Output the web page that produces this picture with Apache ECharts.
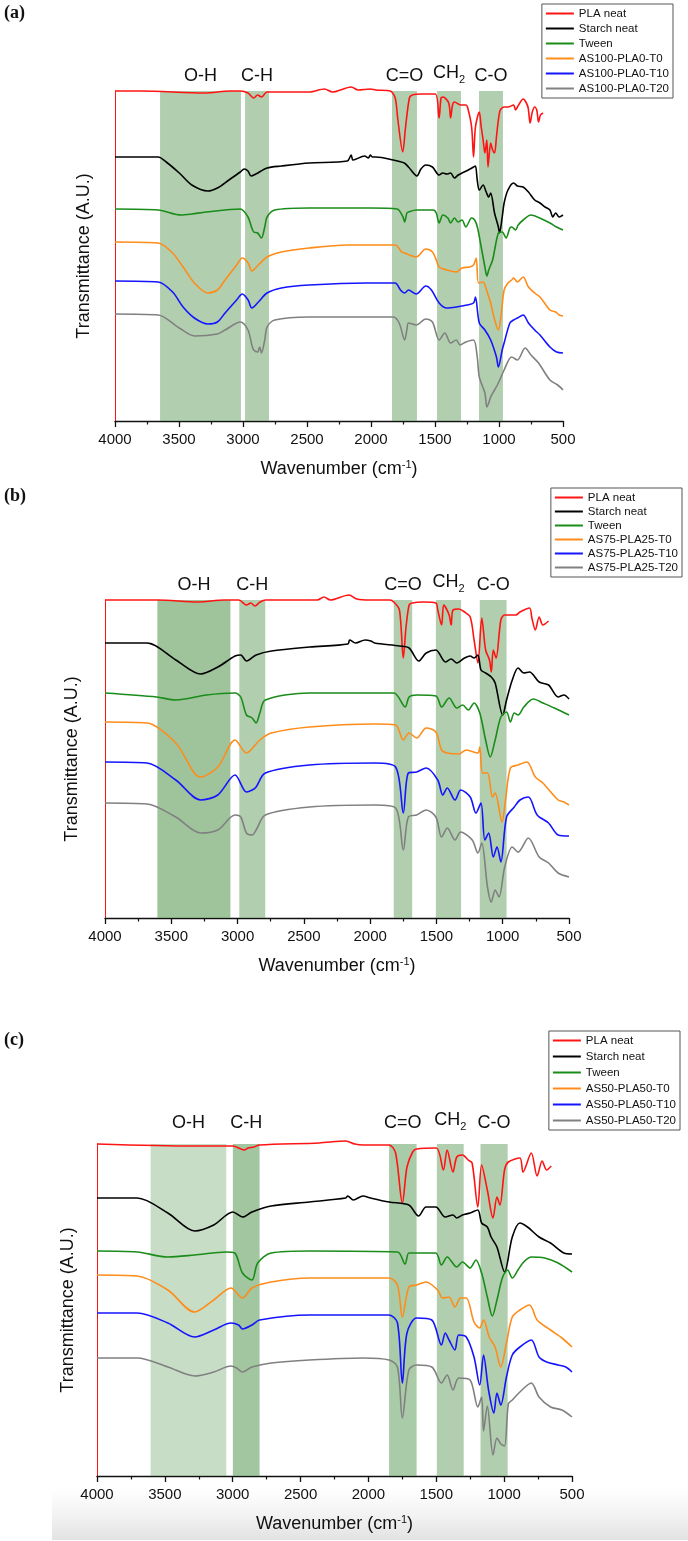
<!DOCTYPE html>
<html><head><meta charset="utf-8">
<script src="https://cdn.jsdelivr.net/npm/echarts@6/dist/echarts.min.js"></script>
<style>html,body{margin:0;padding:0;background:#fff}#c{width:688px;height:1541px}</style>
</head><body><div id="c"></div>
<script>
// ---- shared labels ----
const seriesNames = ['PLA neat','Starch neat','Tween'];
const blendNamesA = ['AS100-PLA0-T0','AS100-PLA0-T10','AS100-PLA0-T20'];
const blendNamesB = ['AS75-PLA25-T0','AS75-PLA25-T10','AS75-PLA25-T20'];
const blendNamesC = ['AS50-PLA50-T0','AS50-PLA50-T10','AS50-PLA50-T20'];
const colors = ['#ff1414','#000000','#1a8c1a','#ff8c1a','#1414ff','#808080'];
const xTicks = [500,1000,1500,2000,2500,3000,3500,4000];
const bandNames = ['O-H','C-H','C=O','CH2','C-O'];
// band limits [from, to] in cm-1
const bandsA = [[3648,3016],[2984,2797],[1836,1641],[1484,1297],[1156,969]];
const bandsB = [[3605,3054],[2987,2791],[1822,1683],[1504,1314],[1173,971]];
const bandsC = [[3605,3047],[2999,2802],[1848,1645],[1496,1298],[1174,974]];

// ---- panel (a) spectra: [wavenumber, transmittance A.U.] ----
const plaA = [[4000,330],[3800,330],[3298,328],[3100,330],[3021,330],[2961,328],[2916,323],[2886,326],[2856,324],[2812,329],[2483,329],[2364,332],[2300,329],[2155,334],[2100,331],[2005,332],[1961,331],[1850,330],[1811,323],[1790,301],[1752,269],[1730,294],[1700,323],[1677,326],[1600,327],[1498,327],[1468,303],[1453,323],[1438,324],[1393,318],[1378,303],[1363,316],[1348,319],[1300,316],[1259,316],[1244,313],[1214,294],[1199,264],[1184,294],[1154,309],[1139,294],[1124,281],[1110,268],[1095,281],[1086,254],[1065,278],[1050,271],[1035,268],[1020,284],[1005,301],[990,311],[960,314],[930,314],[886,316],[871,311],[856,314],[811,322],[790,319],[772,313],[757,298],[740,309],[721,314],[705,311],[691,299],[676,306],[656,308]];
const starchA = [[4000,264],[3663,264],[3600,259],[3498,248],[3400,236],[3274,230],[3200,233],[3110,241],[3021,249],[2991,252],[2961,250],[2937,245],[2900,247],[2812,253],[2700,255],[2483,258],[2185,260],[2155,266],[2140,261],[2050,265],[2020,263],[2005,266],[1990,264],[1961,264],[1826,261],[1740,258],[1707,254],[1641,245],[1610,252],[1572,256],[1520,254],[1468,246],[1440,248],[1408,247],[1378,248],[1348,243],[1319,246],[1289,248],[1240,251],[1199,254],[1184,255],[1170,241],[1154,231],[1124,236],[1100,229],[1080,224],[1065,228],[1035,208],[1005,194],[996,188],[975,204],[960,218],[930,231],[886,238],[856,235],[811,234],[770,229],[721,221],[680,218],[640,214],[602,211],[580,204],[557,208],[530,204],[500,206]];
const tweenA = [[4000,212],[3663,211],[3483,206],[3400,207],[3289,209],[3021,212],[2961,204],[2931,193],[2916,189],[2886,188],[2856,183],[2830,194],[2812,204],[2752,211],[2483,213],[2000,213],[1796,212],[1750,204],[1737,199],[1720,208],[1707,209],[1647,211],[1513,211],[1490,208],[1468,198],[1438,206],[1400,203],[1378,198],[1348,203],[1319,199],[1289,201],[1259,194],[1214,203],[1190,201],[1169,194],[1139,174],[1110,154],[1095,145],[1080,151],[1050,161],[1005,188],[975,189],[945,183],[915,193],[901,194],[871,191],[850,196],[811,201],[751,206],[700,204],[602,198],[550,194],[500,191]];
const t0A = [[4000,179],[3663,178],[3550,168],[3468,154],[3380,138],[3274,128],[3200,131],[3140,141],[3050,156],[3006,163],[2960,158],[2931,150],[2880,156],[2812,164],[2700,169],[2483,173],[2185,176],[1811,176],[1760,169],[1737,168],[1700,166],[1647,164],[1572,172],[1520,169],[1490,161],[1468,154],[1408,151],[1334,149],[1289,153],[1230,154],[1199,156],[1178,163],[1160,138],[1124,139],[1110,136],[1080,124],[1065,118],[1040,104],[1005,91],[985,104],[960,131],[930,138],[901,141],[886,143],[856,139],[811,144],[770,134],[721,128],[680,124],[602,111],[557,109],[530,106],[500,105]];
const t10A = [[4000,140],[3663,139],[3550,129],[3468,114],[3380,103],[3274,97],[3200,99],[3140,108],[3050,121],[3006,127],[2960,121],[2931,113],[2880,119],[2812,128],[2700,133],[2483,136],[2035,138],[1811,138],[1770,131],[1737,128],[1707,131],[1647,127],[1572,135],[1528,131],[1468,118],[1408,113],[1334,114],[1250,116],[1199,118],[1184,124],[1154,98],[1110,91],[1065,81],[1020,64],[1005,54],[975,71],[960,78],[915,98],[886,101],[856,103],[811,106],[770,98],[721,91],[680,86],[602,74],[550,69],[500,68]];
const t20A = [[4000,107],[3663,106],[3498,93],[3379,85],[3200,87],[3140,91],[3021,99],[2961,91],[2931,76],[2916,71],[2886,69],[2870,74],[2856,68],[2830,81],[2812,94],[2752,101],[2483,104],[1826,104],[1780,98],[1737,81],[1720,91],[1707,98],[1647,96],[1572,102],[1520,99],[1468,81],[1423,88],[1378,78],[1334,81],[1304,76],[1259,79],[1199,81],[1170,64],[1154,44],[1110,28],[1095,14],[1080,18],[1065,24],[1035,31],[1005,38],[960,51],[901,64],[856,61],[796,73],[750,66],[691,58],[602,41],[542,36],[500,31]];

// ---- panel (b) spectra ----
const plaB = [[4000,318],[3600,318],[3300,316],[3100,318],[2990,318],[2933,313],[2900,315],[2870,312],[2830,316],[2790,318],[2400,318],[2348,321],[2300,318],[2159,323],[2100,319],[2000,318],[1850,318],[1822,316],[1779,308],[1750,260],[1730,290],[1706,313],[1683,315],[1600,316],[1504,315],[1490,308],[1461,293],[1446,313],[1432,311],[1404,303],[1389,293],[1375,308],[1331,309],[1288,306],[1245,301],[1216,278],[1187,255],[1158,300],[1129,268],[1100,258],[1086,246],[1071,268],[1050,260],[1014,298],[985,303],[900,303],[870,306],[798,310],[780,300],[754,288],[725,301],[697,293],[654,297]];
const starchB = [[4000,275],[3683,275],[3466,258],[3279,244],[3149,251],[3019,262],[2976,263],[2933,257],[2860,263],[2745,267],[2457,271],[2168,274],[2154,278],[2110,275],[2038,278],[1995,277],[1966,275],[1779,272],[1706,270],[1634,257],[1577,265],[1504,268],[1432,256],[1389,259],[1346,255],[1288,260],[1245,262],[1216,260],[1187,263],[1164,248],[1129,245],[1086,241],[1057,235],[1000,203],[971,218],[928,238],[884,250],[841,245],[798,246],[725,236],[654,233],[582,221],[538,223],[500,219]];
const tweenB = [[4000,225],[3611,221],[3466,218],[3235,223],[3019,225],[2976,221],[2933,203],[2890,200],[2860,195],[2832,205],[2791,218],[2457,225],[1822,225],[1736,211],[1706,221],[1649,223],[1504,222],[1461,211],[1404,220],[1346,210],[1302,213],[1259,208],[1216,215],[1173,205],[1129,178],[1094,161],[1057,178],[1014,201],[971,206],[942,196],[913,205],[884,203],[841,211],[769,219],[697,215],[610,210],[500,203]];
const t0B = [[4000,196],[3683,195],[3466,175],[3279,141],[3149,151],[3019,178],[2933,165],[2832,178],[2745,185],[2457,191],[1966,194],[1808,193],[1750,178],[1706,185],[1649,180],[1577,190],[1504,186],[1461,168],[1418,165],[1331,164],[1274,168],[1187,165],[1173,171],[1152,145],[1115,145],[1077,121],[1057,125],[1005,96],[979,118],[942,150],[884,153],[818,156],[754,141],[697,135],[582,118],[538,116],[500,113]];
const t10B = [[4000,156],[3683,155],[3466,138],[3279,118],[3149,123],[3019,143],[2933,126],[2890,128],[2860,131],[2791,145],[2457,153],[1966,155],[1808,151],[1750,105],[1712,145],[1649,146],[1577,150],[1490,138],[1452,123],[1418,130],[1360,118],[1317,128],[1245,121],[1202,105],[1164,115],[1135,78],[1106,85],[1071,61],[1043,71],[1014,56],[971,101],[913,111],[870,118],[807,121],[740,103],[654,95],[582,83],[500,82]];
const t20B = [[4000,115],[3683,114],[3466,101],[3279,85],[3149,88],[3019,103],[2976,101],[2933,85],[2890,83],[2860,88],[2791,103],[2457,111],[1966,113],[1808,110],[1750,68],[1712,101],[1649,103],[1577,108],[1504,101],[1461,81],[1418,90],[1360,78],[1317,86],[1230,78],[1187,65],[1158,75],[1115,31],[1086,16],[1057,28],[1028,21],[985,51],[928,71],[884,66],[807,80],[725,61],[654,55],[582,45],[500,41]];

// ---- panel (c) spectra ----
const plaC = [[4000,332],[3281,330],[3000,330],[2914,326],[2886,328],[2844,329],[2802,331],[2364,333],[2167,335],[2100,332],[2040,331],[1848,331],[1800,323],[1750,273],[1716,309],[1674,324],[1645,327],[1500,328],[1448,306],[1420,326],[1377,304],[1349,319],[1307,321],[1265,316],[1236,313],[1194,269],[1166,311],[1124,286],[1082,258],[1053,279],[1031,271],[997,306],[969,314],[884,318],[861,304],[800,323],[757,300],[720,315],[687,306],[653,310]];
const starchC = [[4000,278],[3704,278],[3478,263],[3281,245],[3140,251],[2999,264],[2928,259],[2858,264],[2717,270],[2435,274],[2167,278],[2153,280],[2111,276],[2040,280],[1984,278],[1848,274],[1702,271],[1631,260],[1575,269],[1504,269],[1434,259],[1377,261],[1349,258],[1307,261],[1251,263],[1194,266],[1166,253],[1124,249],[1096,239],[1053,229],[997,204],[940,239],[884,253],[828,249],[743,239],[658,233],[560,223],[500,222]];
const tweenC = [[4000,225],[3704,224],[3478,219],[3281,221],[3047,224],[2985,223],[2928,203],[2858,196],[2816,213],[2717,223],[2435,225],[1786,224],[1730,212],[1702,223],[1645,223],[1504,223],[1462,211],[1420,219],[1349,209],[1307,214],[1251,208],[1208,216],[1166,203],[1124,179],[1087,160],[1053,176],[1011,199],[974,206],[940,198],[898,206],[856,214],[800,219],[701,218],[602,213],[500,204]];
const t0C = [[4000,201],[3704,200],[3478,186],[3281,164],[3140,176],[3013,188],[2928,178],[2858,188],[2717,194],[2435,198],[1848,198],[1786,191],[1750,159],[1702,189],[1645,191],[1575,194],[1490,186],[1454,178],[1406,179],[1363,169],[1321,178],[1279,178],[1222,154],[1180,148],[1152,156],[1110,139],[1067,129],[1025,109],[983,133],[940,159],[884,166],[813,171],[757,156],[658,146],[574,138],[500,129]];
const t10C = [[4000,163],[3704,163],[3478,153],[3281,139],[3140,146],[3013,153],[2957,151],[2928,147],[2858,151],[2802,156],[2435,161],[1848,161],[1786,153],[1750,93],[1716,143],[1645,158],[1533,156],[1462,131],[1434,143],[1406,136],[1363,126],[1335,141],[1279,139],[1222,119],[1180,91],[1152,121],[1115,86],[1076,63],[1053,83],[1025,71],[983,99],[940,121],[884,129],[800,136],[743,119],[687,114],[602,111],[546,109],[500,104]];
const t20C = [[4000,118],[3704,118],[3478,109],[3281,100],[3140,104],[3013,110],[2971,108],[2928,104],[2858,109],[2717,113],[2435,116],[2040,118],[1848,116],[1786,109],[1750,58],[1702,106],[1645,111],[1533,109],[1462,93],[1420,101],[1377,86],[1335,98],[1251,96],[1194,69],[1166,79],[1152,45],[1124,70],[1082,21],[1053,38],[1025,32],[997,30],[969,72],[940,76],[884,84],[800,93],[743,79],[658,69],[574,66],[500,59]];

const panels = [
  {data:[plaA,starchA,tweenA,t0A,t10A,t20A], names: seriesNames.concat(blendNamesA), bands: bandsA,
   grid:{left:115,top:91,width:448,height:330}, ymax:330, bandAlpha:[0.5,0.5,0.5,0.5,0.5], labelDist:6,
   legend:{right:15,top:4,gap:2}, letter:'(a)', letterTop:4, nameGap:22},
  {data:[plaB,starchB,tweenB,t0B,t10B,t20B], names: seriesNames.concat(blendNamesB), bands: bandsB,
   grid:{left:105,top:600,width:464,height:318}, ymax:318, bandAlpha:[0.62,0.5,0.5,0.5,0.5], labelDist:6,
   legend:{right:6,top:488,gap:1}, letter:'(b)', letterTop:487, nameGap:24},
  {data:[plaC,starchC,tweenC,t0C,t10C,t20C], names: seriesNames.concat(blendNamesC), bands: bandsC,
   grid:{left:97,top:1144,width:475,height:332}, ymax:332, bandAlpha:[0.36,0.6,0.55,0.5,0.5], labelDist:12,
   legend:{right:8,top:1031,gap:3}, letter:'(c)', letterTop:1031, nameGap:20}
];

const font = '"Liberation Sans", Arial, sans-serif';
const option = {animation:false, backgroundColor:'#fff', grid:[], xAxis:[], yAxis:[], series:[], legend:[], graphic:[]};

panels.forEach((p, gi) => {
  option.grid.push(Object.assign({containLabel:false}, p.grid));
  option.xAxis.push({
    type:'value', gridIndex:gi, inverse:true, min:500, max:4000, interval:500,
    name:'Wavenumber (cm{sup|-1})', nameLocation:'middle', nameGap:38,
    nameTextStyle:{fontFamily:font, fontSize:18, color:'#111', rich:{sup:{fontSize:11, verticalAlign:'top', padding:[0,0,10,0], fontFamily:font, color:'#111'}}},
    axisLine:{lineStyle:{color:'#111', width:1.3}},
    axisTick:{length:6, lineStyle:{color:'#111', width:1.3}},
    minorTick:{show:true, splitNumber:2, length:3.5, lineStyle:{color:'#111', width:1.2}},
    axisLabel:{fontFamily:font, fontSize:15, color:'#111', margin:11, formatter: v => String(v)},
    splitLine:{show:false}
  });
  option.yAxis.push({
    type:'value', gridIndex:gi, min:0, max:p.ymax,
    name:'Transmittance (A.U.)', nameLocation:'middle', nameGap:p.nameGap,
    nameTextStyle:{fontFamily:font, fontSize:18, color:'#111'},
    axisLine:{show:true, lineStyle:{color:'#ff1414', width:1}},
    axisTick:{show:false}, axisLabel:{show:false}, splitLine:{show:false}
  });
  p.data.forEach((d, si) => {
    option.series.push({
      type:'line', name:p.names[si], xAxisIndex:gi, yAxisIndex:gi, data:d,
      showSymbol:false, symbol:'none', smooth:0.3, clip:false, z:2,
      lineStyle:{color:colors[si], width:1.6}, itemStyle:{color:colors[si]}
    });
  });
  option.series.push({
    type:'line', xAxisIndex:gi, yAxisIndex:gi, data:[], z:5, silent:true,
    markArea:{silent:true, data: p.bands.map((b, bi) => [
      {xAxis:b[0], itemStyle:{color:'rgb(100,160,95)', opacity:p.bandAlpha[bi]},
       label:{show:true, position:'top', distance:p.labelDist,
              formatter: bandNames[bi]==='CH2' ? '{n|CH}{s|2}' : '{n|'+bandNames[bi]+'}',
              rich:{n:{fontFamily:font, fontSize:18, color:'#111'}, s:{fontFamily:font, fontSize:11, color:'#111', verticalAlign:'bottom', padding:[12,0,0,0]}}}},
      {xAxis:b[1]}
    ])}
  });
  option.legend.push({
    data:p.names, orient:'vertical', right:p.legend.right, top:p.legend.top,
    itemWidth:28, itemHeight:2, icon:'rect', itemGap:p.legend.gap,
    padding:[3,4,3,4], borderColor:'#555', borderWidth:1,
    textStyle:{fontFamily:font, fontSize:11.5, color:'#111', lineHeight:13},
    selectedMode:false
  });
  option.graphic.push({type:'text', left:4, top:p.letterTop, silent:true,
    style:{text:p.letter, font:'bold 18px "Liberation Serif", serif', fill:'#111'}});
});
// light grey footer shading in the bottom panel
option.graphic.push({type:'rect', left:52, top:1488, z:-10, silent:true,
  shape:{width:636, height:52},
  style:{fill:new echarts.graphic.LinearGradient(0,0,0,1,[{offset:0,color:'rgba(235,235,235,0)'},{offset:1,color:'#e2e2e2'}])}});

const chart = echarts.init(document.getElementById('c'), null, {renderer:'canvas'});
chart.setOption(option);
</script></body></html>
